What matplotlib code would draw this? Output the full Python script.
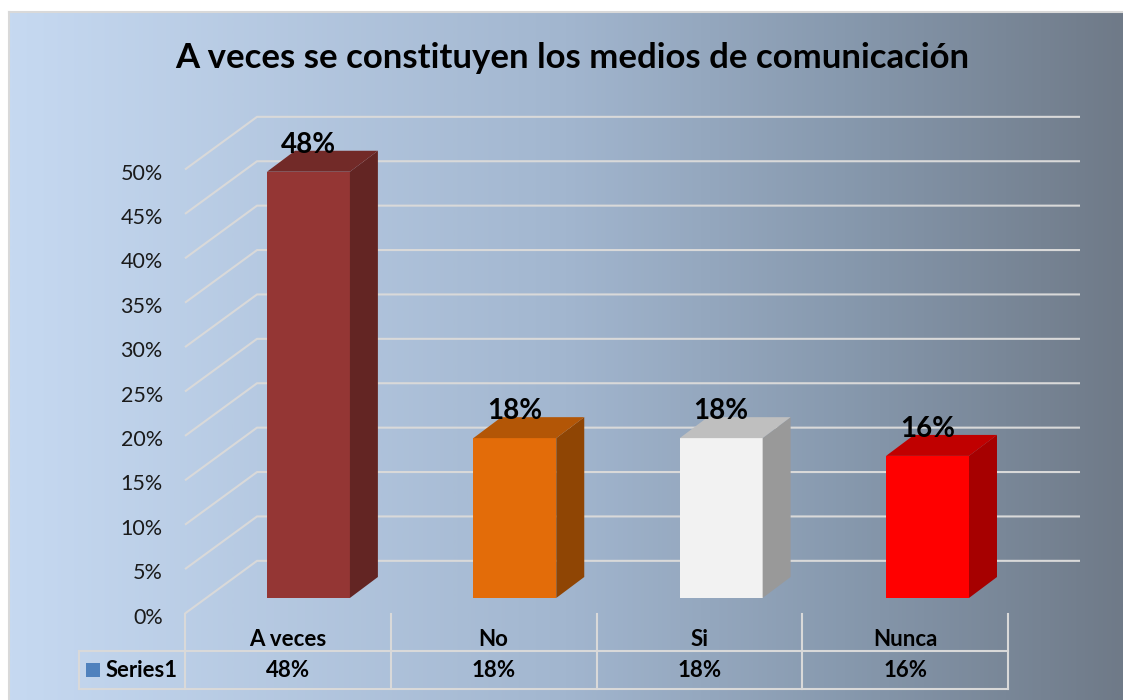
import numpy as np
import matplotlib
matplotlib.use('Agg')
import matplotlib.pyplot as plt
from matplotlib.colors import LinearSegmentedColormap
from matplotlib.patches import Polygon, Rectangle
from matplotlib.transforms import ScaledTranslation

plt.rcParams['font.family'] = ['Lato', 'DejaVu Sans']

title = 'A veces se constituyen los medios de comunicación'
categories = ['A veces', 'No', 'Si', 'Nunca']
values = [48, 18, 18, 16]
series_name = 'Series1'
y_ticks = [0, 5, 10, 15, 20, 25, 30, 35, 40, 45, 50]

front_colors = ['#943634', '#e36c09', '#f2f2f2', '#ff0000']
side_colors = ['#632523', '#8f4504', '#999999', '#a60000']
top_colors = ['#722a28', '#b35606', '#bfbfbf', '#c00000']

W, H = 1123, 700
GRID = '#d9d9d9'

# depth of the fake 3d, in data units
wall_dx, wall_dy = 0.35, 5.93
bar_dx, bar_dy = 0.136, 2.36
bar_shift, bar_step, bar_floor, bar_width = 0.10, 1.003, 1.75, 0.403


def px_box(left, top, right, bottom):
    return [left / W, 1 - bottom / H, (right - left) / W, (bottom - top) / H]


fig = plt.figure(figsize=(W / 100, H / 100), dpi=100, facecolor='white')

# background gradient
bg = fig.add_axes(px_box(8.5, 11.5, W, H), zorder=0)
cmap = LinearSegmentedColormap.from_list(
    'bg', [(0, '#c6d9f1'), (0.5, '#a2b6cf'), (0.75, '#8799ae'), (1, '#6f7a88')])
bg.imshow(np.linspace(0, 1, 512).reshape(1, -1), cmap=cmap, aspect='auto')
bg.set_xticks([])
bg.set_yticks([])
for side in ['right', 'bottom']:
    bg.spines[side].set_visible(False)
for side in ['left', 'top']:
    bg.spines[side].set_color(GRID)
    bg.spines[side].set_linewidth(1.5)

ax = fig.add_axes(px_box(185, 169.5, 1008, 613.5), zorder=1)
ax.patch.set_alpha(0)
for spine in ax.spines.values():
    spine.set_visible(False)

# walls
for t in y_ticks:
    ax.plot([-0.5, -0.5 + wall_dx, 3.5 + wall_dx], [t, t + wall_dy, t + wall_dy],
            color=GRID, lw=1.5, clip_on=False, zorder=1, solid_capstyle='butt')

# bars
x = np.arange(len(categories)) * bar_step + bar_shift
ax.bar(x, values, bar_width, bottom=bar_floor, color=front_colors, zorder=3, clip_on=False)
for xi, v, side, top in zip(x, values, side_colors, top_colors):
    x0, x1 = xi - bar_width / 2, xi + bar_width / 2
    y0, y1 = bar_floor, bar_floor + v
    ax.add_patch(Polygon([(x1, y0), (x1 + bar_dx, y0 + bar_dy), (x1 + bar_dx, y1 + bar_dy), (x1, y1)],
                         closed=True, fc=side, ec='none', zorder=3, clip_on=False))
    ax.add_patch(Polygon([(x0, y1), (x0 + bar_dx, y1 + bar_dy), (x1 + bar_dx, y1 + bar_dy), (x1, y1)],
                         closed=True, fc=top, ec='none', zorder=3, clip_on=False))
    ax.text(xi, y1 + 3.05, '%d%%' % v, ha='center', va='center', fontsize=20,
            fontweight='bold', color='black', zorder=4)

# axis labels
ax.set_xlim(-0.5, 3.5)
ax.set_ylim(0, 50)
ax.set_yticks(y_ticks)
ax.set_yticklabels(['%d%%' % t for t in y_ticks], fontsize=15.5, color='#1a1a1a')
ax.set_xticks(np.arange(len(categories)))
ax.set_xticklabels(categories, fontsize=16, fontweight='bold', color='black')
ax.tick_params(axis='y', length=0, pad=16)
ax.tick_params(axis='x', length=0, pad=11)
for label in ax.get_yticklabels():
    label.set_transform(label.get_transform() + ScaledTranslation(0, -1.5 / 72, fig.dpi_scale_trans))

# data table under the chart
row_line = -4.26
row_bottom = -8.5
row_mid = -6.45
head_left = -1.015
for i in range(len(categories) + 1):
    ax.plot([i - 0.5, i - 0.5], [0, row_bottom], color=GRID, lw=1.5, clip_on=False, zorder=1)
for yy in [row_line, row_bottom]:
    ax.plot([head_left, 3.5], [yy, yy], color=GRID, lw=1.5, clip_on=False, zorder=1)
ax.plot([head_left, head_left], [row_line, row_bottom], color=GRID, lw=1.5, clip_on=False, zorder=1)
for i, v in enumerate(values):
    ax.text(i, row_mid, '%d%%' % v, ha='center', va='center', fontsize=16,
            fontweight='bold', color='black')
ax.add_patch(Rectangle((-0.98, -7.15), 0.068, 1.6, fc='#4f81bd', ec='none', clip_on=False))
ax.text(-0.885, row_mid, series_name, ha='left', va='center', fontsize=15.8,
        fontweight='bold', color='black')

fig.text(572 / W, 1 - 58 / H, title, ha='center', va='center', fontsize=25,
         fontweight='bold', color='black', zorder=5)

fig.savefig('out.png', dpi=100)
